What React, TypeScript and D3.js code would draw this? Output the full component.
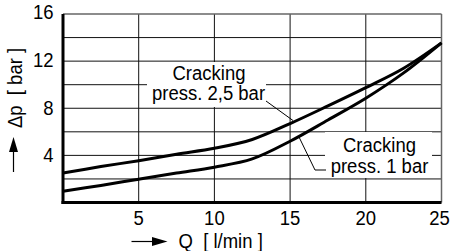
import React from "react";
import * as d3 from "d3";

const flowQ = [0, 2.5, 5, 7.5, 10, 12.5, 15, 17.5, 20, 22.5, 25];
const crack25 = [2.5, 3.05, 3.55, 4.1, 4.6, 5.35, 6.7, 8.2, 9.75, 11.4, 13.55];
const crack1 = [0.95, 1.45, 1.98, 2.5, 3.0, 3.7, 5.2, 7.0, 8.85, 11.0, 13.55];
const xTicks = [5, 10, 15, 20, 25];
const xGrid = [5, 10, 15, 20];
const yTicks = [4, 8, 12, 16];
const yGrid = [2, 4, 6, 8, 10, 12, 14];

const W = 451;
const H = 251;
const FONT = "'Liberation Sans', Arial, sans-serif";

export default function App() {
  const x = d3.scaleLinear().domain([0, 25]).range([63, 441.5]);
  const y = d3.scaleLinear().domain([0, 16]).range([202.5, 14]);
  const line = d3
    .line<number>()
    .x((_, i) => x(flowQ[i]))
    .y((d) => y(d))
    .curve(d3.curveCatmullRom.alpha(0.5));

  const fs = 18.5;
  const tf = (px: number, py: number) => `translate(${px},${py}) scale(1,1.08)`;
  return (
    <div style={{ position: "absolute", left: 0, top: 0 }}>
      <svg width={W} height={H} style={{ display: "block" }} fontFamily={FONT}>
        <rect x={0} y={0} width={W} height={H} fill="#fff" />
        {/* grid */}
        {xGrid.map((v) => (
          <line key={"gx" + v} x1={x(v)} x2={x(v)} y1={y(16)} y2={y(0)} stroke="#111" strokeWidth={1} />
        ))}
        {yGrid.map((v) => (
          <line key={"gy" + v} x1={x(0)} x2={x(25)} y1={y(v)} y2={y(v)} stroke="#111" strokeWidth={1} />
        ))}
        {/* frame */}
        <line x1={x(0)} x2={x(25)} y1={y(16)} y2={y(16)} stroke="#666" strokeWidth={1.5} />
        <line x1={x(25)} x2={x(25)} y1={y(16)} y2={y(0)} stroke="#666" strokeWidth={1.5} />
        {/* label boxes */}
        <rect x={147} y={62} width={119} height={45} fill="#fff" />
        <rect x={325} y={132} width={107} height={46} fill="#fff" />
        {/* axes */}
        <line x1={x(0)} x2={x(0)} y1={y(16)} y2={y(0) + 1.5} stroke="#000" strokeWidth={3} />
        <line x1={x(0) - 1.5} x2={x(25)} y1={y(0)} y2={y(0)} stroke="#000" strokeWidth={3} />
        {/* curves */}
        <path d={line(crack25) || ""} fill="none" stroke="#000" strokeWidth={3} />
        <path d={line(crack1) || ""} fill="none" stroke="#000" strokeWidth={3} />
        {/* leaders */}
        <polyline points="266,101 293,120.5" fill="none" stroke="#000" strokeWidth={1} />
        <polyline points="299,137 315,170 326,170" fill="none" stroke="#000" strokeWidth={1} />
        {/* annotations */}
        <text transform={tf(209, 80)} fontSize={fs} textAnchor="middle">Cracking</text>
        <text transform={tf(208.5, 100)} fontSize={fs} textAnchor="middle">press. 2,5 bar</text>
        <text transform={tf(379.5, 152)} fontSize={fs} textAnchor="middle">Cracking</text>
        <text transform={tf(379.5, 173)} fontSize={fs} textAnchor="middle">press. 1 bar</text>
        {/* tick labels */}
        {xTicks.map((v) => (
          <text key={"tx" + v} transform={tf(v === 25 ? x(v) - 2 : x(v), 225)} fontSize={fs} textAnchor="middle">
            {v}
          </text>
        ))}
        {yTicks.map((v) => (
          <text
            key={"ty" + v}
            transform={tf(53.5, y(v) + (v === 16 ? 4.5 : v === 12 ? 6 : 7))}
            fontSize={fs}
            textAnchor="end"
          >
            {v}
          </text>
        ))}
        {/* y axis title */}
        <text
          transform="translate(22,88) rotate(-90) scale(1,1.08)"
          fontSize={fs}
          textAnchor="middle"
          style={{ whiteSpace: "pre" }}
        >
          {"Δp  [ bar ]"}
        </text>
        <line x1={13.5} x2={13.5} y1={172} y2={148} stroke="#000" strokeWidth={1.2} />
        <path d="M13.5,137 L18,152 L9,152 Z" fill="#000" />
        {/* x axis title */}
        <line x1={131.5} x2={155} y1={241.5} y2={241.5} stroke="#000" strokeWidth={1.2} />
        <path d="M167.5,241.5 L152,237 L152,246 Z" fill="#000" />
        <text transform={tf(178.5, 247.5)} fontSize={fs} style={{ whiteSpace: "pre" }}>
          {"Q  [ l/min ]"}
        </text>
      </svg>
    </div>
  );
}
